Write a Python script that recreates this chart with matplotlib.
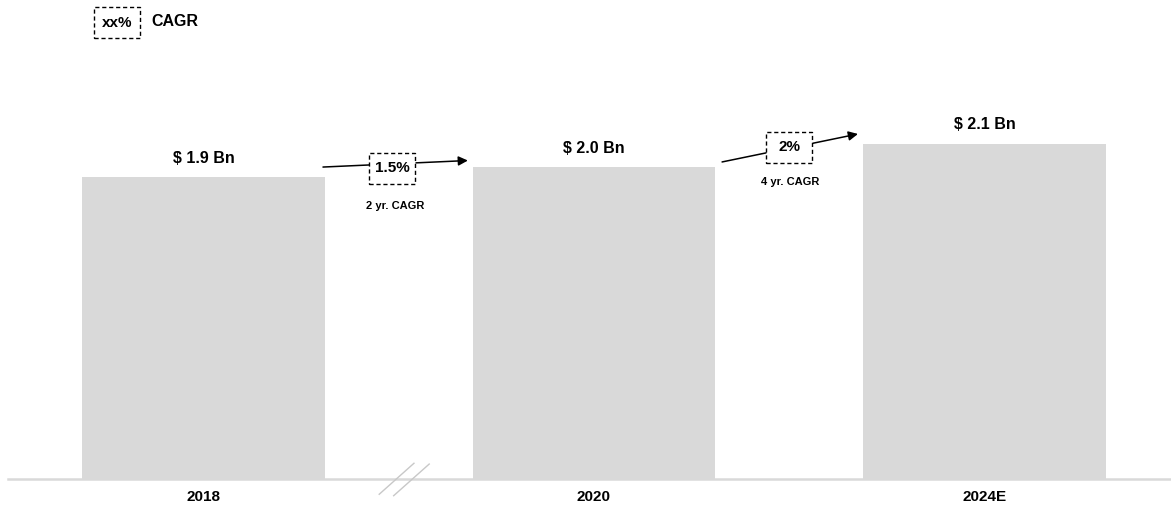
import matplotlib
matplotlib.use("Agg")
import matplotlib.pyplot as plt
from matplotlib.patches import Rectangle

plt.rcParams['font.family'] = ['Liberation Sans', 'DejaVu Sans']

# ---- data ----
categories = ["2018", "2020", "2024E"]
values = [1.90, 1.96, 2.11]          # bar heights (USD Bn, as drawn)
value_labels = ["$ 1.9 Bn", "$ 2.0 Bn", "$ 2.1 Bn"]
cagr_values = ["1.5%", "2%"]
cagr_notes = ["2 yr. CAGR", "4 yr. CAGR"]

W, H = 1171, 508
fig = plt.figure(figsize=(W / 100, H / 100), dpi=100)
ax = fig.add_axes([8 / W, 29 / H, (W - 8) / W, 479 / H])

bar_w = 0.622
x = list(range(len(categories)))
ax.bar(x, values, width=bar_w, color="#d9d9d9", zorder=1)

ax.set_xlim(-0.5006, 2.4776)
ax.set_ylim(0, 3.0126)
for s in ["top", "right", "left"]:
    ax.spines[s].set_visible(False)
ax.spines["bottom"].set_color("#d9d9d9")
ax.spines["bottom"].set_linewidth(1.8)
ax.set_yticks([])
ax.set_xticks(x)
ax.set_xticklabels(categories, fontsize=11, fontweight="bold")
ax.tick_params(axis="x", length=0, pad=8)

# value labels
for xi, v, lab in zip(x, values, value_labels):
    ax.annotate(lab, (xi, v), xytext=(0, 8), textcoords="offset points",
                ha="center", va="bottom", fontsize=11.5, fontweight="bold")

# CAGR arrows
arrows = [((0.306, 1.962), (0.677, 2.003)), ((1.328, 1.994), (1.676, 2.170))]
boxes = [(0.4827, 1.953), (1.5006, 2.088)]
notes = [(0.490, 1.717), (1.502, 1.868)]
bw, bh = 46 / 390.5, 31 / 159.0
for (s, e), b, n, cv, cn in zip(arrows, boxes, notes, cagr_values, cagr_notes):
    ax.annotate("", xy=e, xytext=s,
                arrowprops=dict(arrowstyle="-|>", color="black", lw=1.1,
                                mutation_scale=14, shrinkA=0, shrinkB=0),
                zorder=3)
    ax.add_patch(Rectangle((b[0] - bw / 2, b[1] - bh / 2), bw, bh,
                           fc="white", ec="black", ls=(0, (3, 2)), lw=1.0,
                           zorder=4))
    ax.text(b[0], b[1], cv, ha="center", va="center", fontsize=11,
            fontweight="bold", zorder=5)
    ax.text(n[0], n[1], cn, ha="center", va="center", fontsize=8,
            fontweight="bold")

# axis break marks
for (x0, y0, x1, y1) in [(0.450, -0.096, 0.539, 0.099),
                         (0.487, -0.105, 0.578, 0.094)]:
    ax.plot([x0, x1], [y0, y1], color="#c8c8c8", lw=1.0, clip_on=False,
            zorder=5)

# legend
fig.patches.append(Rectangle((94 / W, 1 - 38 / H), 46 / W, 31 / H,
                             transform=fig.transFigure, fc="white",
                             ec="black", ls=(0, (3, 2)), lw=1.0))
fig.text(117 / W, 1 - 23 / H, "xx%", ha="center", va="center", fontsize=11,
         fontweight="bold")
fig.text(151 / W, 1 - 21 / H, "CAGR", ha="left", va="center", fontsize=11.5,
         fontweight="bold")

fig.savefig("out.png", dpi=100, facecolor="white")
